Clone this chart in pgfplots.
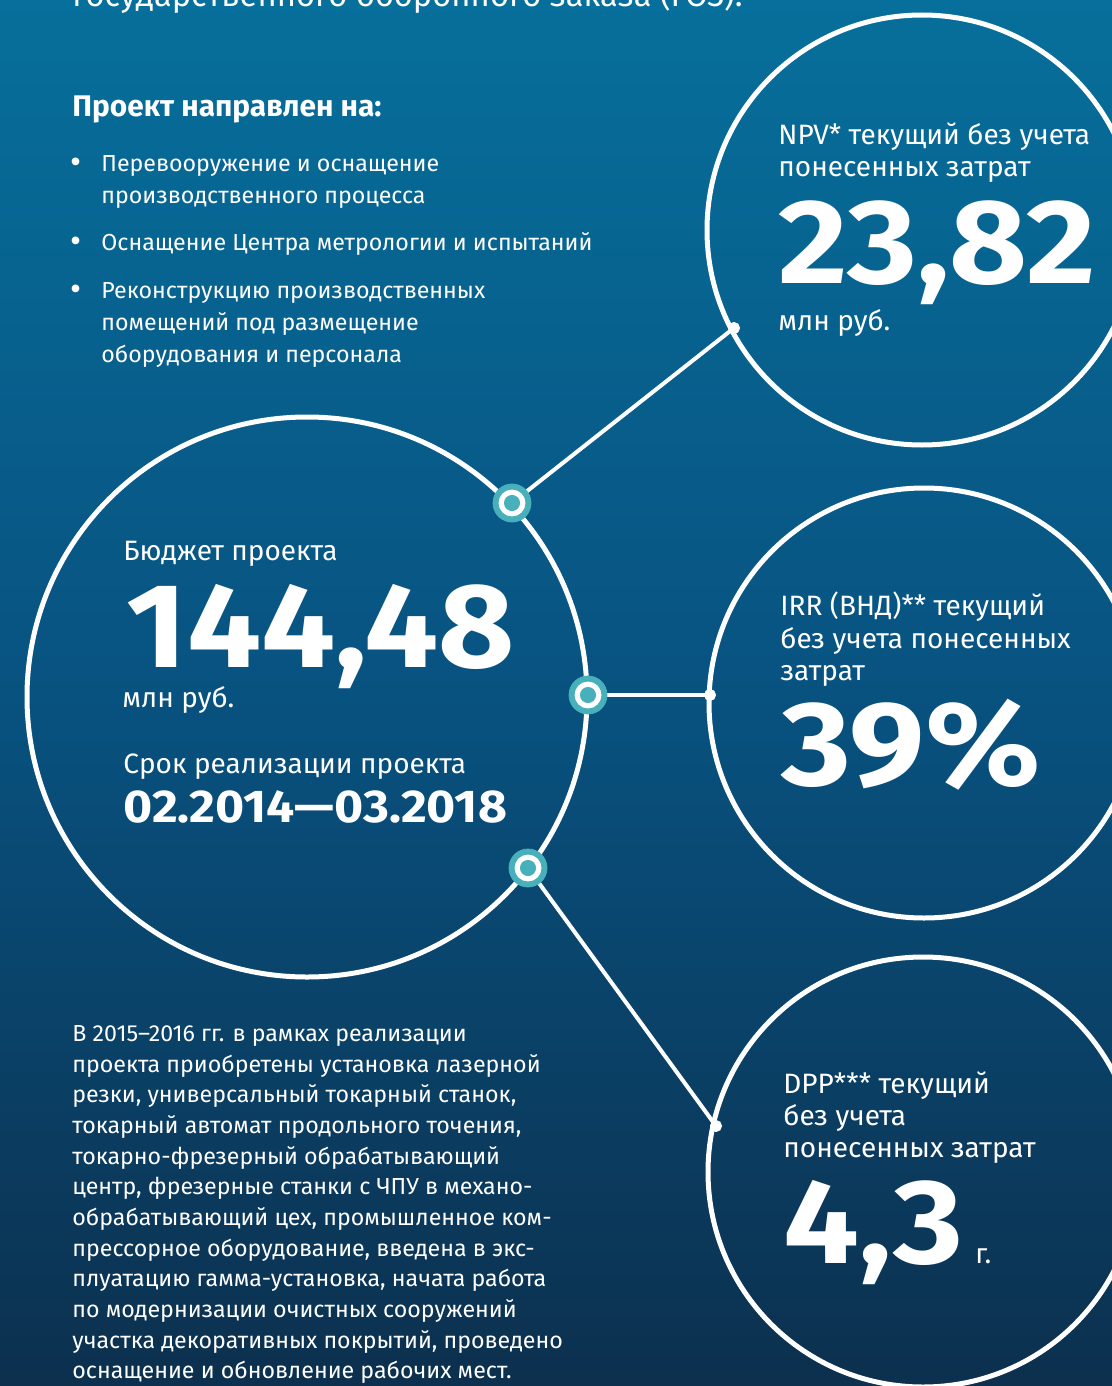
\documentclass[border=0pt]{standalone}
\usepackage{pgfplots}
\pgfplotsset{compat=1.18}
\usepackage{graphicx}
\usepackage{fontspec}
\setmainfont{Fira Sans}

\definecolor{bgtop}{RGB}{7,111,155}
\definecolor{bgmid}{RGB}{8,82,128}
\definecolor{bgbot}{RGB}{12,48,78}
\definecolor{ring}{RGB}{72,176,186}

% one line of white text, base west at (x,y) in picture pixels
\newcommand{\tl}[4]{\node[anchor=base west, inner sep=0pt, text=white, font=#3] at (axis cs:#1,#2) {#4};}
\newcommand{\bodyf}{\fontsize{11.6pt}{14pt}\selectfont}
\newcommand{\lblf}{\fontsize{14pt}{16pt}\selectfont}
\newcommand{\bignum}{\fontsize{60pt}{60pt}\selectfont\bfseries}
\newcommand{\wide}[1]{\scalebox{1.12}[1]{#1}}
\newcommand{\bul}{\fontsize{17pt}{17pt}\selectfont}

\begin{document}
\begin{tikzpicture}
\begin{axis}[
    scale only axis,
    width=556pt, height=693pt,
    xmin=0, xmax=1112, ymin=0, ymax=1386,
    y dir=reverse,
    axis lines=none, ticks=none,
    clip mode=global,
]
% background
\fill[top color=bgtop, bottom color=bgbot, middle color=bgmid]
    (axis cs:0,0) rectangle (axis cs:1112,1386);

% big circles
\draw[white, line width=2.5pt] (axis cs:922,230) circle [radius=215];
\draw[white, line width=2.5pt] (axis cs:307,697) circle [radius=280];
\draw[white, line width=2.5pt] (axis cs:924,703) circle [radius=215];
\draw[white, line width=2.5pt] (axis cs:923,1172) circle [radius=215];

% connectors
\addplot[white, line width=2pt] coordinates {(512,503) (734,328)};
\addplot[white, line width=2pt] coordinates {(588,695) (710,695)};
\addplot[white, line width=2pt] coordinates {(528,868) (716,1126)};
\addplot[only marks, mark=*, mark size=2.8pt, white] coordinates {(734,328) (710,695) (716,1126)};

% ring markers on the budget circle
\addplot[only marks, mark=*, mark size=9.5pt, color=ring] coordinates {(512,503) (588,695) (528,868)};
\addplot[only marks, mark=*, mark size=6.5pt, white] coordinates {(512,503) (588,695) (528,868)};
\addplot[only marks, mark=*, mark size=3.8pt, color=ring] coordinates {(512,503) (588,695) (528,868)};

% top text (cut off)
\tl{72}{7}{\fontsize{16.3pt}{18pt}\selectfont}{государственного оборонного заказа (ГОЗ).}

% aims
\tl{72}{117}{\fontsize{14.9pt}{16pt}\selectfont\bfseries}{Проект направлен на:}
\tl{70}{173}{\bul}{•}
\tl{101}{171}{\bodyf}{Перевооружение и оснащение}
\tl{101}{203}{\bodyf}{производственного процесса}
\tl{70}{252}{\bul}{•}
\tl{101}{250}{\bodyf}{Оснащение Центра метрологии и испытаний}
\tl{70}{300}{\bul}{•}
\tl{101}{298}{\bodyf}{Реконструкцию производственных}
\tl{101}{330}{\bodyf}{помещений под размещение}
\tl{101}{362}{\bodyf}{оборудования и персонала}

% NPV
\tl{778}{145}{\lblf}{NPV* текущий без учета}
\tl{778}{177}{\lblf}{понесенных затрат}
\tl{778}{283}{\bignum}{\wide{23,82}}
\tl{778}{330}{\lblf}{млн руб.}

% budget
\tl{123}{560}{\lblf}{Бюджет проекта}
\tl{126}{667}{\bignum}{\scalebox{1.094}[1]{144,48}}
\tl{122}{707}{\lblf}{млн руб.}
\tl{123}{773}{\lblf}{Срок реализации проекта}
\tl{123}{822}{\fontsize{23pt}{25pt}\selectfont\bfseries}{\scalebox{1.085}[1]{02.2014—03.2018}}

% IRR
\tl{780}{615}{\lblf}{IRR (ВНД)** текущий}
\tl{780}{648}{\lblf}{без учета понесенных}
\tl{780}{680}{\lblf}{затрат}
\tl{781}{785}{\bignum}{\wide{39\%}}

% DPP
\tl{783}{1093}{\lblf}{DPP*** текущий}
\tl{783}{1125}{\lblf}{без учета}
\tl{783}{1157}{\lblf}{понесенных затрат}
\tl{783}{1263}{\bignum}{\wide{4,3}}
\tl{975}{1263}{\lblf}{г.}

% paragraph
\tl{72}{1041}{\bodyf}{В 2015–2016 гг. в рамках реализации}
\tl{72}{1072}{\bodyf}{проекта приобретены установка лазерной}
\tl{72}{1102}{\bodyf}{резки, универсальный токарный станок,}
\tl{72}{1133}{\bodyf}{токарный автомат продольного точения,}
\tl{72}{1164}{\bodyf}{токарно-фрезерный обрабатывающий}
\tl{72}{1194}{\bodyf}{центр, фрезерные станки с ЧПУ в механо-}
\tl{72}{1225}{\bodyf}{обрабатывающий цех, промышленное ком-}
\tl{72}{1256}{\bodyf}{прессорное оборудование, введена в экс-}
\tl{72}{1286}{\bodyf}{плуатацию гамма-установка, начата работа}
\tl{72}{1317}{\bodyf}{по модернизации очистных сооружений}
\tl{72}{1348}{\bodyf}{участка декоративных покрытий, проведено}
\tl{72}{1378}{\bodyf}{оснащение и обновление рабочих мест.}
\end{axis}
\pgfresetboundingbox
\useasboundingbox (current axis.south west) rectangle (current axis.north east);
\end{tikzpicture}
\end{document}
